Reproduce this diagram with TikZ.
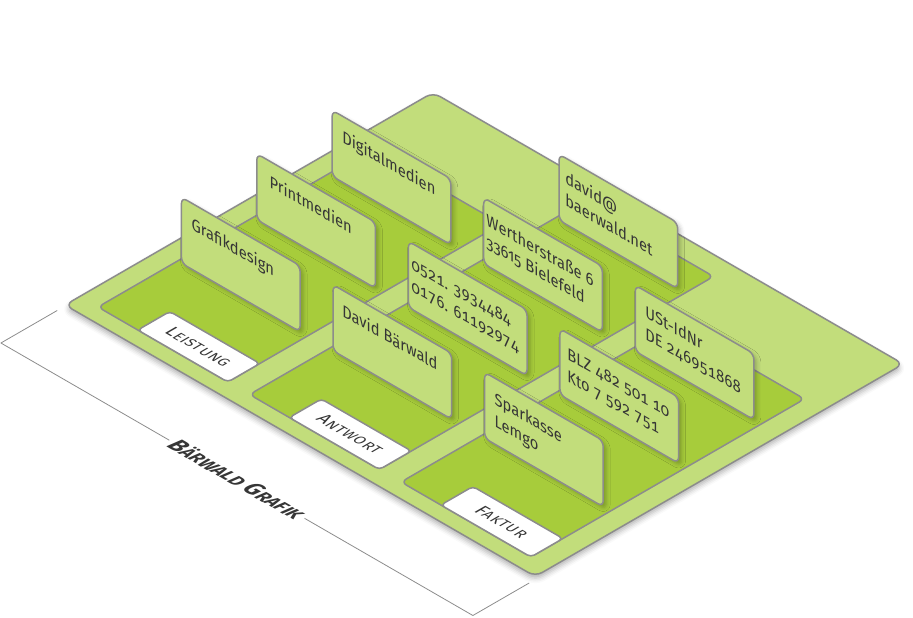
\documentclass[tikz,border=0pt]{standalone}
\usepackage{fontspec}
\setmainfont{Fira Sans}[Numbers=OldStyle]
\usetikzlibrary{shadows.blur}
\definecolor{traygreen}{HTML}{C2DD7B}
\definecolor{bingreen}{HTML}{A7CC3B}
\definecolor{rimgray}{HTML}{8C8C8C}
\definecolor{inkgray}{HTML}{363636}
\newcommand{\capword}[4]{{\fontsize{#1}{#1}\selectfont #3}{\fontsize{#2}{#1}\selectfont\MakeUppercase{#4}}}

\begin{document}
\begin{tikzpicture}[x={(0.866pt,-0.5pt)}, y={(0.866pt,0.5pt)}, z={(0pt,1pt)},
	line join=round,
	every node/.style={text=inkgray},
	rim/.style={draw=rimgray, line width=1.5pt},
	tray/.style={rim, fill=traygreen, rounded corners=8pt,
		blur shadow={shadow xshift=0pt, shadow yshift=-4pt, shadow blur radius=5pt, shadow opacity=30}},
	bin/.style={rim, fill=bingreen, rounded corners=6pt},
	tag/.style={rim, fill=white, rounded corners=4pt},
	card/.style={rim, fill=traygreen, rounded corners=6pt,
		blur shadow={shadow xshift=3pt, shadow yshift=-3pt, shadow blur radius=4pt, shadow opacity=25}},
	cardtext/.style={cm={0.866,-0.5,0,1,(0,0)}, anchor=base west, inner sep=0pt, align=left,
		font=\fontsize{17}{22}\selectfont},
	digits/.style={font=\fontsize{17}{22}\selectfont\addfontfeatures{Numbers={OldStyle,Monospaced}}},
	floortext/.style={cm={0.866,-0.5,0.866,0.5,(0,0)}, inner sep=0pt},
	dimline/.style={draw=rimgray, line width=0.8pt}]
	\useasboundingbox (-65pt,-313pt) rectangle (848pt,305pt);

	\draw[tray] (0,0) -- (543,0) -- (543,425) -- (0,425) -- cycle;
	\draw[bin] (21,17) -- (171,17) -- (171,333) -- (21,333) -- cycle;
	\draw[bin] (196,17) -- (346,17) -- (346,403) -- (196,403) -- cycle;
	\draw[bin] (371,17) -- (521,17) -- (521,333) -- (371,333) -- cycle;

	\draw[tag] (67,17) -- (171,17) -- (171,54) -- (67,54) -- cycle;
	\draw[tag] (242,17) -- (346,17) -- (346,54) -- (242,54) -- cycle;
	\draw[tag] (417,17) -- (521,17) -- (521,54) -- (417,54) -- cycle;
	\node[floortext] (leistung) at (119,35.5) {\addfontfeatures{LetterSpace=5}\capword{18}{14.5}{L}{eistung}};
	\node[floortext] (antwort) at (294,35.5) {\addfontfeatures{LetterSpace=5}\capword{18}{14.5}{A}{ntwort}};
	\node[floortext] (faktur) at (469,35.5) {\addfontfeatures{LetterSpace=5}\capword{18}{14.5}{F}{aktur}};

	\coordinate (extL) at (1,-10);
	\coordinate (dimL) at (1,-75);
	\coordinate (extR) at (546,-10);
	\coordinate (dimR) at (546,-75);
	\node[floortext, inner xsep=4pt, font=\bfseries\itshape\fontsize{23}{23}\selectfont] (firm) at (273.5,-75)
		{\capword{23}{18}{B}{ärwald} \capword{23}{18}{G}{rafik}};
	\draw[dimline] (extL) -- (dimL) -- (firm.west);
	\draw[dimline] (firm.east) -- (dimR) -- (extR);

	\draw[card] (202.5,368,2) -- (202.5,368,68) -- (339.5,368,68) -- (339.5,368,2) -- cycle;
	\node[cardtext] (mail) at (209.5,368,20) {david@\\baerwald.net};

	\draw[card] (27.5,281,2) -- (27.5,281,68) -- (164.5,281,68) -- (164.5,281,2) -- cycle;
	\node[cardtext] (digital) at (39,281,42) {Digitalmedien};
	\draw[card] (202.5,281,2) -- (202.5,281,68) -- (339.5,281,68) -- (339.5,281,2) -- cycle;
	\node[cardtext] (street) at (205.5,281,20) {Wertherstraße 6\\33615 Bielefeld};
	\draw[card] (377.5,281,2) -- (377.5,281,68) -- (514.5,281,68) -- (514.5,281,2) -- cycle;
	\node[cardtext, digits] (taxid) at (389,281,20) {USt-IdNr\\DE 246951868};

	\draw[card] (27.5,194,2) -- (27.5,194,68) -- (164.5,194,68) -- (164.5,194,2) -- cycle;
	\node[cardtext] (print) at (42,194,42) {Printmedien};
	\draw[card] (202.5,194,2) -- (202.5,194,68) -- (339.5,194,68) -- (339.5,194,2) -- cycle;
	\node[cardtext, digits] (phone) at (206,194,20) {0521. 3934484\\0176. 61192974};
	\draw[card] (377.5,194,2) -- (377.5,194,68) -- (514.5,194,68) -- (514.5,194,2) -- cycle;
	\node[cardtext, digits] (account) at (386,194,20) {BLZ 482 501 10\\Kto 7 592 751};

	\draw[card] (27.5,107,2) -- (27.5,107,68) -- (164.5,107,68) -- (164.5,107,2) -- cycle;
	\node[cardtext] (grafik) at (39,107,42) {Grafikdesign};
	\draw[card] (202.5,107,2) -- (202.5,107,68) -- (339.5,107,68) -- (339.5,107,2) -- cycle;
	\node[cardtext] (david) at (213,107,42) {David Bärwald};
	\draw[card] (377.5,107,2) -- (377.5,107,68) -- (514.5,107,68) -- (514.5,107,2) -- cycle;
	\node[cardtext] (bank) at (389,107,20) {Sparkasse\\Lemgo};
\end{tikzpicture}
\end{document}
